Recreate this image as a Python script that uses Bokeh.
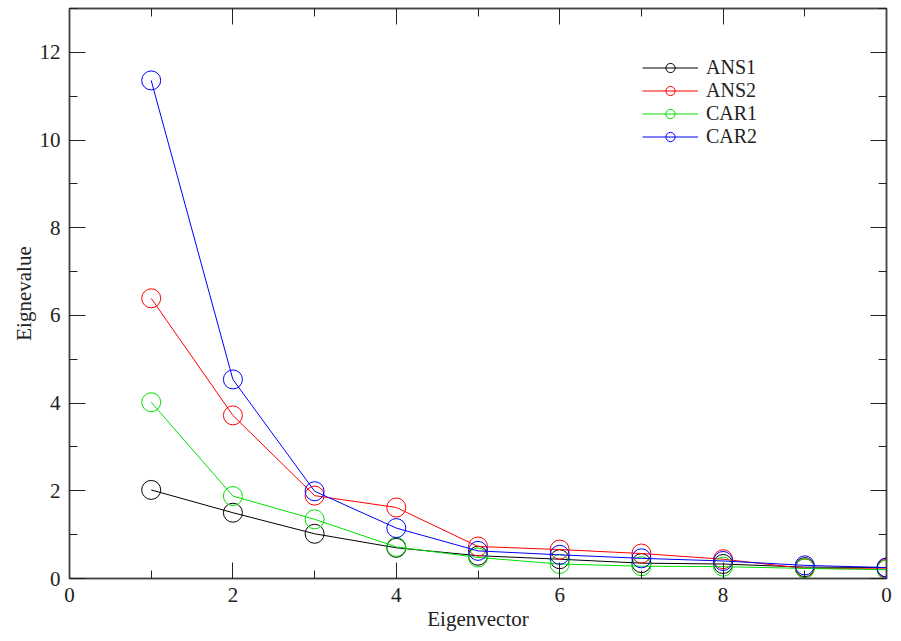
from bokeh.plotting import figure
from bokeh.models import (Range1d, LinearAxis, SingleIntervalTicker, Legend, LegendItem,
                          CustomJSTickFormatter)
from bokeh.embed import file_html
from bokeh.resources import INLINE

x = [1, 2, 3, 4, 5, 6, 7, 8, 9, 10]
ans1 = [2.02, 1.50, 1.02, 0.70, 0.52, 0.44, 0.35, 0.33, 0.26, 0.25]
ans2 = [6.39, 3.72, 1.89, 1.62, 0.73, 0.66, 0.57, 0.44, 0.23, 0.22]
car1 = [4.02, 1.88, 1.35, 0.72, 0.48, 0.33, 0.28, 0.27, 0.23, 0.20]
car2 = [11.36, 4.54, 1.99, 1.15, 0.63, 0.54, 0.46, 0.40, 0.30, 0.25]
names = ["ANS1", "ANS2", "CAR1", "CAR2"]
colors = ["#000000", "#ff0000", "#00e000", "#0000ff"]
xticks_override = {10: "0"}

FONT = "Liberation Serif"

p = figure(frame_width=817, frame_height=570, output_backend="svg", toolbar_location=None,
           x_range=Range1d(0, 10), y_range=Range1d(0, 13),
           x_axis_label="Eigenvector", y_axis_label="Eignevalue",
           min_border_left=69, min_border_top=8, min_border_right=6, min_border_bottom=0)
p.xgrid.visible = False
p.ygrid.visible = False
p.outline_line_color = "#444444"
p.outline_line_width = 1.5
p.background_fill_color = "white"
p.border_fill_color = "white"

def style(ax, labels=True):
    ax.ticker = SingleIntervalTicker(interval=2, num_minor_ticks=2)
    ax.major_tick_in = 16
    ax.major_tick_out = 0
    ax.minor_tick_in = 8
    ax.minor_tick_out = 0
    ax.axis_line_color = "#444444"
    ax.axis_line_width = 1.5
    ax.major_tick_line_color = "#222222"
    ax.minor_tick_line_color = "#222222"
    ax.major_label_text_font = FONT
    ax.major_label_text_font_size = "21px"
    ax.major_label_text_color = "#222222"
    ax.axis_label_text_font = FONT
    ax.axis_label_text_font_size = "21px"
    ax.axis_label_text_font_style = "normal"
    ax.axis_label_text_color = "#222222"
    if not labels:
        ax.formatter = CustomJSTickFormatter(code="return ''")

style(p.xaxis[0])
style(p.yaxis[0])
p.xaxis[0].major_label_standoff = 9
p.xaxis[0].axis_label_standoff = 2
p.xaxis[0].major_label_overrides = xticks_override
p.yaxis[0].major_label_standoff = 9
p.yaxis[0].axis_label_standoff = 1

top = LinearAxis(major_label_standoff=0)
right = LinearAxis(major_label_standoff=0)
style(top, labels=False)
style(right, labels=False)
p.add_layout(top, "above")
p.add_layout(right, "right")

items = []
for name, ys, c in zip(names, [ans1, ans2, car1, car2], colors):
    l = p.line(x, ys, line_color=c, line_width=1)
    s = p.scatter(x, ys, marker="circle", size=19, fill_color=None, line_color=c, line_width=1)
    items.append(LegendItem(label=name, renderers=[l, s]))

legend = Legend(items=items, location=(569, 426), border_line_alpha=0,
                background_fill_alpha=0, label_text_font=FONT, label_text_font_size="20px",
                label_text_color="#222222", glyph_width=56, glyph_height=23, label_height=23,
                spacing=0, padding=4, margin=0, label_standoff=8)
p.add_layout(legend, "center")

open("out.html", "w").write(file_html(p, INLINE))
